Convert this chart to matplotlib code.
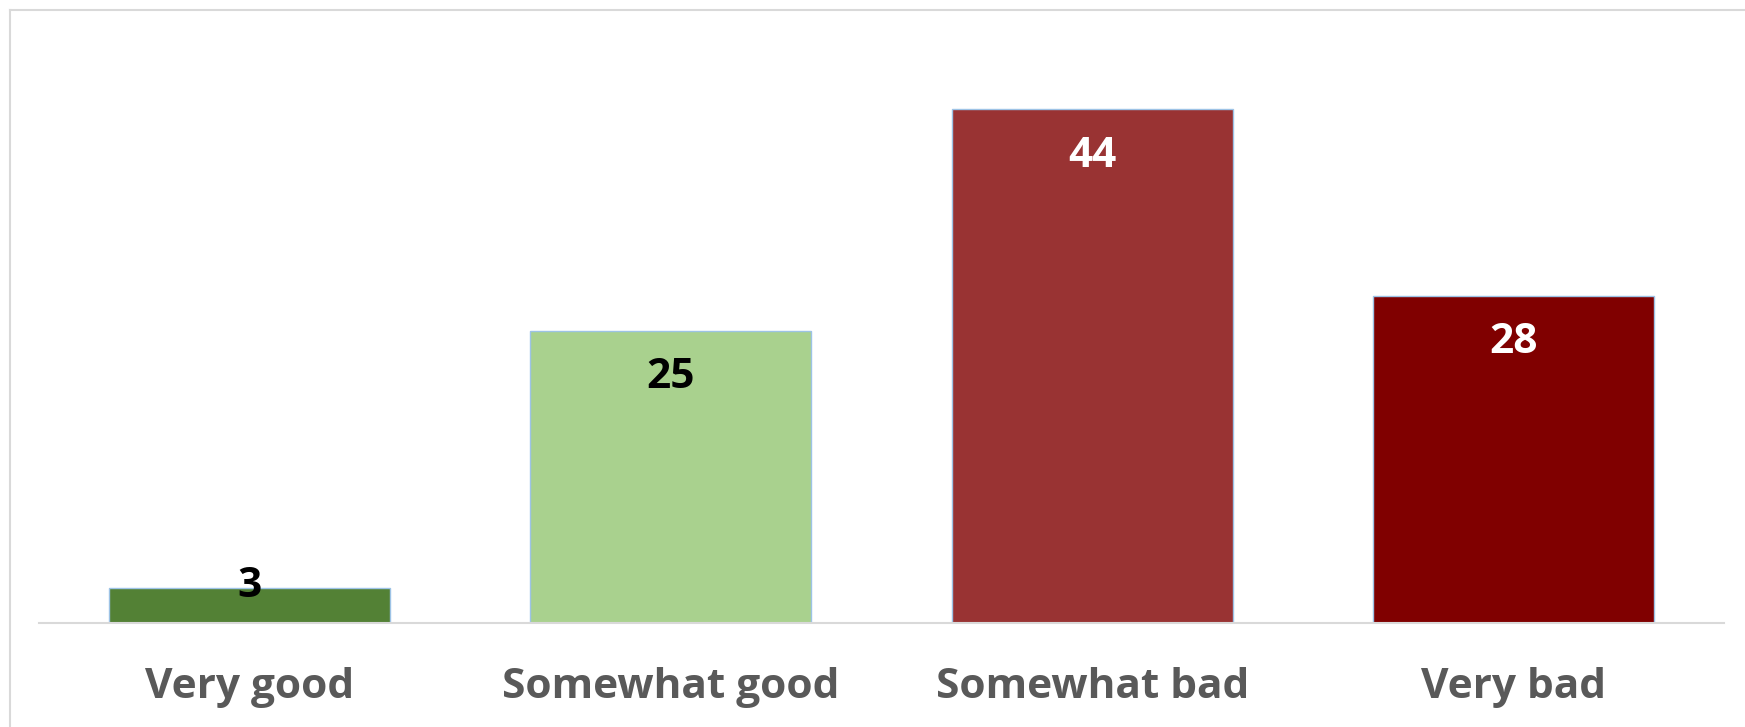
import matplotlib
matplotlib.use("Agg")
import matplotlib.pyplot as plt
from matplotlib.lines import Line2D

categories = ["Very good", "Somewhat good", "Somewhat bad", "Very bad"]
values = [3, 25, 44, 28]
bar_colors = ["#538135", "#A9D18E", "#993333", "#800000"]
label_colors = ["black", "black", "white", "white"]

W, H = 1745, 727
fig = plt.figure(figsize=(W / 100, H / 100), dpi=100)
ax = fig.add_axes([39 / W, 1 - 623 / H, (1724 - 39) / W, (623 - 39) / H])

font = "Open Sans"
x = list(range(len(categories)))
bars = ax.bar(x, values, width=0.667, color=bar_colors, edgecolor="#9DC3E6", linewidth=1.0, zorder=2)
ax.set_xlim(-0.5, len(categories) - 0.5)
ax.set_ylim(0, 50)

ax.set_yticks([])
for s in ["top", "right", "left"]:
    ax.spines[s].set_visible(False)
ax.spines["bottom"].set_color("#D9D9D9")
ax.spines["bottom"].set_linewidth(1.5)
ax.set_xticks(x)
ax.set_xticklabels(categories, fontsize=30.5, fontweight="bold", color="#595959", family=font)
ax.tick_params(axis="x", length=0, pad=32)

px_per_unit = (623 - 39) / 50
for xi, v, c in zip(x, values, label_colors):
    if v * px_per_unit > 90:
        off = -47
    else:
        off = 1
    ax.annotate(str(v), xy=(xi, v), xytext=(0, off * 0.72), textcoords="offset points",
                ha="center", va="center", fontsize=30.5, fontweight="bold", color=c, family=font, zorder=3)

# outer chart border (top and left visible)
fig.add_artist(Line2D([10 / W, 10 / W], [0, 1 - 9.5 / H], transform=fig.transFigure, color="#D9D9D9", linewidth=1.5))
fig.add_artist(Line2D([10 / W, 1], [1 - 9.5 / H, 1 - 9.5 / H], transform=fig.transFigure, color="#D9D9D9", linewidth=1.5))

fig.savefig("out.png", dpi=100, facecolor="white")
